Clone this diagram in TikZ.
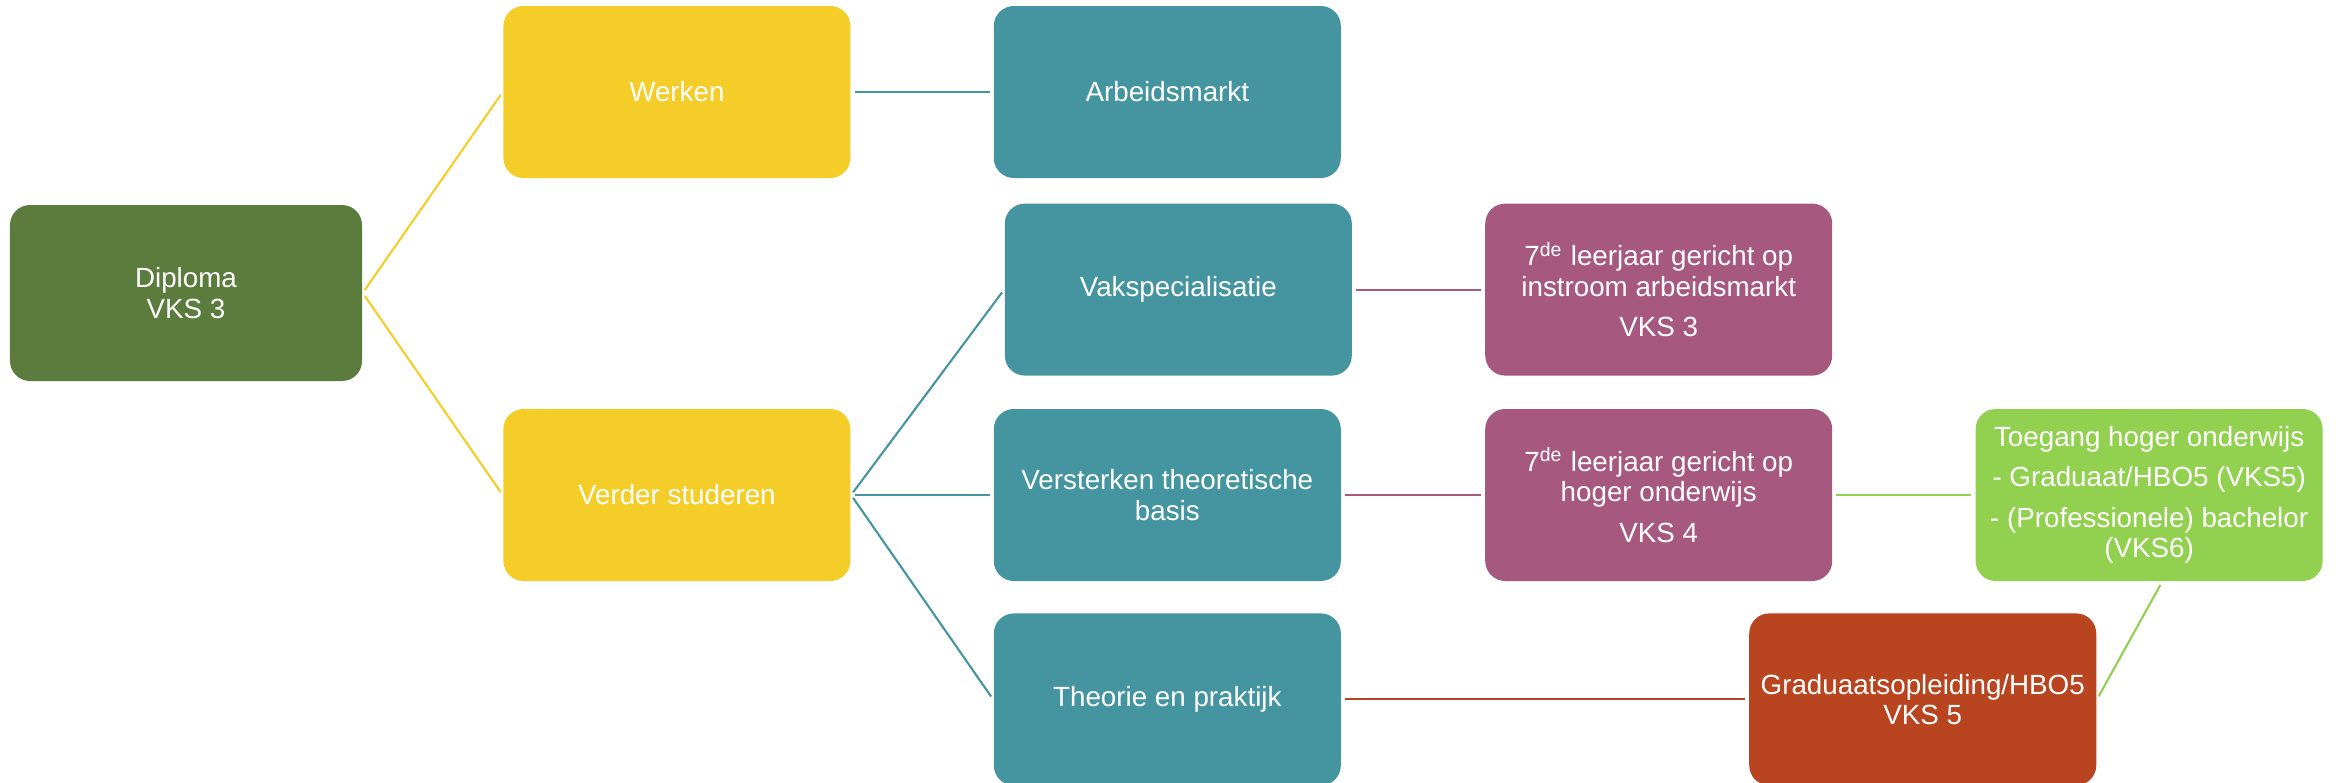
\documentclass[tikz,border=0pt]{standalone}
\usepackage{fontspec}
\setmainfont{Liberation Sans}
\usepackage{tikz}
\usetikzlibrary{positioning}
\usepackage{xcolor}
\definecolor{diplomagroen}{RGB}{92,124,62}
\definecolor{werkgeel}{RGB}{245,205,40}
\definecolor{blauwgroen}{RGB}{69,149,160}
\definecolor{paars}{RGB}{167,88,126}
\definecolor{lichtgroen}{RGB}{146,208,80}
\definecolor{roestrood}{RGB}{185,68,32}

\begin{document}
\begin{tikzpicture}[
    every node/.style={font=\fontsize{7.9}{8.7}\selectfont},
    % Boxes
    vakbox/.style={
      rectangle, rounded corners=0.2cm, text=white, align=center,
      minimum width=3.47cm, minimum height=1.72cm, inner sep=2pt
    },
    rootbox/.style={vakbox, fill=diplomagroen, minimum width=3.52cm, minimum height=1.76cm},
    geelbox/.style={vakbox, fill=werkgeel},
    tealbox/.style={vakbox, fill=blauwgroen},
    paarsbox/.style={vakbox, fill=paars},
    lichtbox/.style={vakbox, fill=lichtgroen},
    roodbox/.style={vakbox, fill=roestrood},
    % Connectors
    verbinding/.style={line width=0.6pt, shorten <=1pt, shorten >=1pt}
  ]
  \useasboundingbox (0,0) rectangle (23.36,-7.82);

  % ============ Root ============
  \node[rootbox] (diploma) at (1.86,-2.93) {Diploma\\VKS 3};

  % ============ Level 1 ============
  \node[geelbox, right=1.40cm of diploma, yshift=2.01cm] (werken) {Werken};
  \node[geelbox, right=1.40cm of diploma, yshift=-2.02cm] (verder) {Verder studeren};

  % ============ Level 2 ============
  \node[tealbox, right=1.42cm of werken] (arbeid) {Arbeidsmarkt};
  \node[tealbox, right=1.42cm of verder] (versterk) {Versterken theoretische\\basis};
  \node[tealbox, above=0.32cm of versterk, xshift=0.11cm] (vak) {Vakspecialisatie};
  \node[tealbox, below=0.31cm of versterk] (theorie) {Theorie en praktijk};

  % ============ Level 3 ============
  \node[paarsbox, right=1.43cm of versterk] (vks4)
    {7\textsuperscript{de} leerjaar gericht op\\hoger onderwijs\\[2.8pt]VKS 4};
  \node[paarsbox, above=0.32cm of vks4] (vks3)
    {7\textsuperscript{de} leerjaar gericht op\\instroom arbeidsmarkt\\[2.8pt]VKS 3};
  \node[roodbox, right=4.07cm of theorie] (grad) {Graduaatsopleiding/HBO5\\VKS 5};

  % ============ Level 4 ============
  \node[lichtbox, right=1.42cm of vks4] (toegang)
    {Toegang hoger onderwijs\\[2.8pt]- Graduaat/HBO5 (VKS5)\\[2.8pt]- (Professionele) bachelor\\(VKS6)};

  % ============ Connectors ============
  \draw[verbinding, werkgeel] (diploma.east) -- (werken.west);
  \draw[verbinding, werkgeel] (diploma.east) -- (verder.west);
  \draw[verbinding, blauwgroen] (werken.east) -- (arbeid.west);
  \draw[verbinding, blauwgroen] (verder.east) -- (vak.west);
  \draw[verbinding, blauwgroen] (verder.east) -- (versterk.west);
  \draw[verbinding, blauwgroen] (verder.east) -- (theorie.west);
  \draw[verbinding, paars] (vak.east) -- (vks3.west);
  \draw[verbinding, paars] (versterk.east) -- (vks4.west);
  \draw[verbinding, lichtgroen] (vks4.east) -- (toegang.west);
  \draw[verbinding, roestrood] (theorie.east) -- (grad.west);
  \draw[verbinding, lichtgroen] (grad.east) -- ([xshift=0.13cm]toegang.south);

\end{tikzpicture}
\end{document}
